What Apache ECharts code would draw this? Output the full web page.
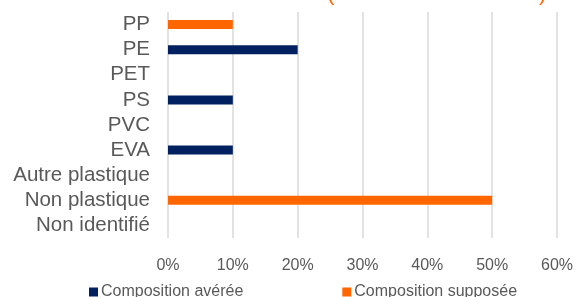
<!DOCTYPE html>
<html>
<head>
<meta charset="utf-8">
<script src="https://cdn.jsdelivr.net/npm/echarts@6/dist/echarts.min.js"></script>
<style>
  html, body { margin: 0; padding: 0; background: #fff; }
  #chart { width: 576px; height: 297px; }
</style>
</head>
<body>
<div id="chart"></div>
<script>
const categories = ['PP', 'PE', 'PET', 'PS', 'PVC', 'EVA', 'Autre plastique', 'Non plastique', 'Non identifié'];
const averee = [0, 20, 0, 10, 0, 10, 0, 0, 0];
const supposee = [10, 0, 0, 0, 0, 0, 0, 50, 0];
const seriesNames = ['Composition avérée', 'Composition supposée'];

const chart = echarts.init(document.getElementById('chart'));
const option = {
  animation: false,
  textStyle: { fontFamily: 'Liberation Sans, Arial, sans-serif' },
  graphic: [
    { type: 'text', left: 327, top: -17, style: { text: '(', fontSize: 22, fill: '#FF6600', fontFamily: 'Liberation Sans' } },
    { type: 'text', left: 539, top: -17, style: { text: ')', fontSize: 22, fill: '#FF6600', fontFamily: 'Liberation Sans' } }
  ],
  grid: { left: 168, right: 18, top: 12, bottom: 59, containLabel: false },
  legend: {
    bottom: -8,
    left: 84,
    itemWidth: 9,
    itemHeight: 9,
    itemGap: 99,
    icon: 'rect',
    textStyle: { fontSize: 16, color: '#595959', padding: [0, 0, 0, -2] },
    data: seriesNames
  },
  xAxis: {
    type: 'value',
    min: 0,
    max: 60,
    interval: 10,
    axisLabel: { formatter: '{value}%', fontSize: 16, color: '#595959', margin: 20 },
    splitLine: { lineStyle: { color: '#d9d9d9', width: 1.5 } },
    axisLine: { show: false },
    axisTick: { show: false }
  },
  yAxis: {
    type: 'category',
    inverse: true,
    data: categories,
    axisLabel: { fontSize: 20.5, color: '#595959', margin: 18, interval: 0 },
    axisLine: { show: false },
    axisTick: { show: false }
  },
  series: [
    { name: seriesNames[0], type: 'bar', stack: 'c', data: averee, barWidth: 9, itemStyle: { color: '#002060' } },
    { name: seriesNames[1], type: 'bar', stack: 'c', data: supposee, barWidth: 9, itemStyle: { color: '#FF6600' } }
  ]
};
chart.setOption(option);
</script>
</body>
</html>
